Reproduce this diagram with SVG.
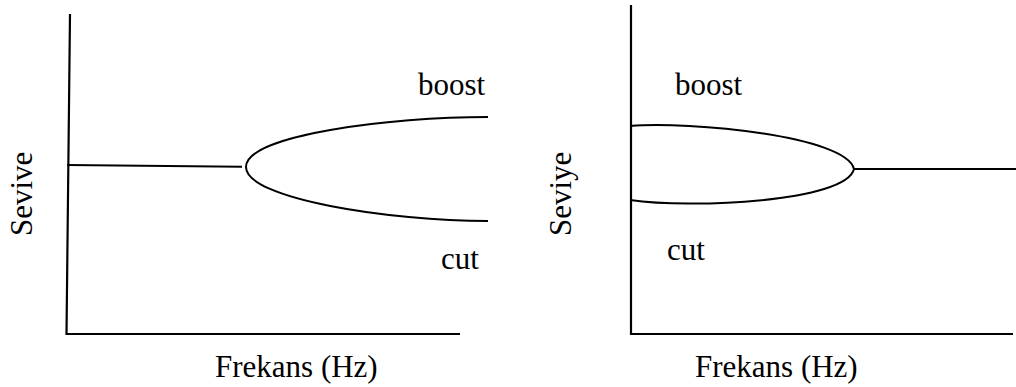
<svg xmlns="http://www.w3.org/2000/svg" width="1016" height="387" viewBox="0 0 1016 387">
<style>
.ln{fill:none;stroke:#000;stroke-width:2;stroke-linecap:butt}
.ax{fill:none;stroke:#000;stroke-width:2.2}
.t{font-family:'Liberation Serif','DejaVu Serif',serif;font-size:31px;fill:#000}
</style>
<rect width="1016" height="387" fill="#fff"/>
<g id="chart-left">
  <path class="ax" d="M70,14 L66.5,334 L460,334"/>
  <text class="t" x="418" y="95">boost</text>
  <text class="t" x="441" y="269">cut</text>
  <text class="t" x="215" y="377">Frekans (Hz)</text>
  <text class="t" transform="translate(32,236) rotate(-90)">Sevive</text>
</g>
<g id="chart-right">
  <path class="ax" d="M631,5 L631,334 L1013,334"/>
  <text class="t" x="675" y="95">boost</text>
  <text class="t" x="667" y="260">cut</text>
  <text class="t" x="695" y="377">Frekans (Hz)</text>
  <text class="t" transform="translate(571,236) rotate(-90)">Seviye</text>
</g>
<g id="connectors">
  <path class="ln" d="M67,165 L242,166.7"/>
  <path class="ln" d="M488,117 C390,117 246,135 246,167 C246,199 390,221 488,221"/>
  <path class="ln" d="M630,126 C690,121 846,136 854,169 C846,202 690,209 630,200"/>
  <path class="ln" d="M854,169 L1016,169"/>
</g>
</svg>
